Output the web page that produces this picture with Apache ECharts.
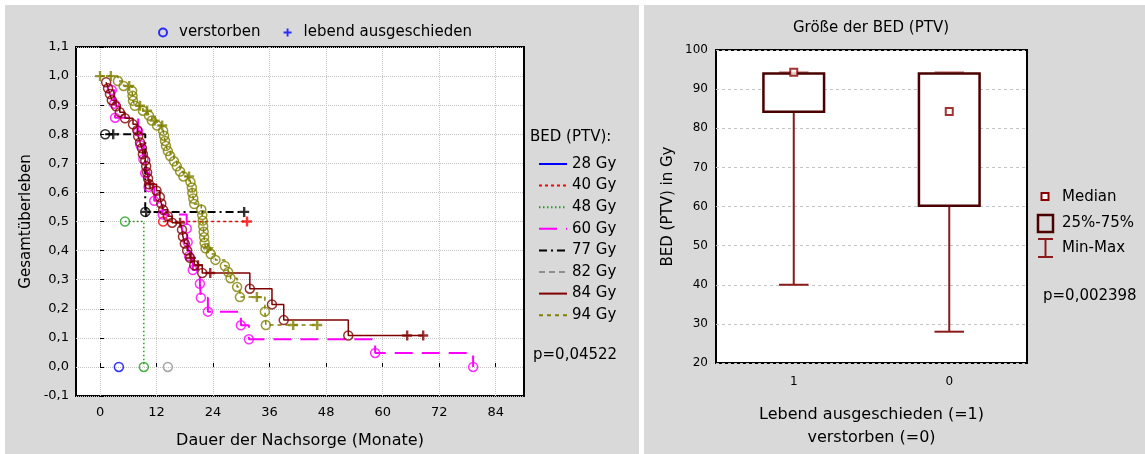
<!DOCTYPE html>
<html>
<head>
<meta charset="utf-8">
<script src="https://cdn.jsdelivr.net/npm/echarts@6/dist/echarts.min.js"></script>
<style>
html, body { margin: 0; padding: 0; background: #fff; }
.panel { position: absolute; background: #d9d9d9; }
#chart { position: absolute; left: 0; top: 0; width: 1145px; height: 454px; }
</style>
</head>
<body>
<div class="panel" style="left:5px;top:5px;width:634px;height:449px"></div>
<div class="panel" style="left:644px;top:5px;width:501px;height:449px"></div>
<div id="chart"></div>
<script>
// Überlebenskurven: [Monate, Überleben]
const gruppen = ['28 Gy', '40 Gy', '48 Gy', '60 Gy', '77 Gy', '82 Gy', '84 Gy', '94 Gy'];

const tot28 = [[4.0, 0]];
const cen28 = [];
const tot40 = [[13.4, 0.5]];
const cen40 = [[31.2, 0.5]];
const tot48 = [[5.3, 0.5], [9.3, 0]];
const cen48 = [];
const tot60 = [[2.5, 0.952], [3.0, 0.905], [3.2, 0.857], [8.1, 0.810], [8.6, 0.762], [9.2, 0.714],
    [9.6, 0.667], [10.3, 0.619], [11.5, 0.571], [13.3, 0.524], [18.4, 0.476], [18.6, 0.429],
    [18.9, 0.381], [19.7, 0.333], [21.2, 0.286], [21.4, 0.238], [22.9, 0.190], [29.9, 0.143],
    [31.6, 0.095], [58.4, 0.048], [79.2, 0]];
const cen60 = [];
const tot77 = [[1.1, 0.8], [9.6, 0.533]];
const cen77 = [[2.8, 0.8], [9.8, 0.533], [30.6, 0.533]];
const tot82 = [[14.4, 0]];
const cen82 = [];
const tot84 = [[1.3, 0.979], [1.7, 0.958], [2.1, 0.938], [2.5, 0.917], [3.4, 0.896], [4.2, 0.876],
    [5.3, 0.855], [7.0, 0.834], [7.9, 0.814], [8.1, 0.793], [8.5, 0.772], [8.9, 0.752],
    [9.1, 0.731], [9.6, 0.710], [9.8, 0.690], [10.0, 0.669], [10.2, 0.648], [10.4, 0.628],
    [12.0, 0.606], [12.7, 0.584], [13.0, 0.562], [13.4, 0.540], [14.4, 0.518], [15.3, 0.496],
    [17.4, 0.472], [17.6, 0.448], [18.0, 0.424], [18.5, 0.400], [19.1, 0.375], [20.0, 0.350],
    [21.7, 0.323], [31.8, 0.269], [36.5, 0.215], [39.0, 0.161], [52.7, 0.108]];
const cen84 = [[10.6, 0.628], [17.0, 0.496], [19.3, 0.375], [20.8, 0.350], [23.4, 0.323],
    [65.2, 0.108], [68.6, 0.108]];
const tot94 = [[3.8, 0.983], [5.0, 0.966], [6.8, 0.949], [6.9, 0.932], [7.0, 0.915], [7.4, 0.898],
    [9.1, 0.881], [10.4, 0.864], [11.0, 0.847], [12.1, 0.830], [13.4, 0.812], [13.6, 0.795],
    [13.8, 0.777], [14.0, 0.760], [14.4, 0.742], [14.9, 0.725], [15.7, 0.707], [16.3, 0.690],
    [17.0, 0.672], [17.7, 0.655], [19.2, 0.636], [19.5, 0.617], [19.6, 0.598], [19.8, 0.579],
    [20.0, 0.560], [21.5, 0.541], [21.7, 0.522], [21.8, 0.503], [21.9, 0.484], [22.0, 0.465],
    [22.1, 0.446], [22.2, 0.427], [22.4, 0.408], [23.5, 0.388], [24.5, 0.368], [26.5, 0.347],
    [27.2, 0.326], [27.7, 0.305], [29.1, 0.275], [29.7, 0.240], [35.0, 0.190], [35.2, 0.144]];
const cen94 = [[0, 1.0], [2.3, 1.0], [6.2, 0.966], [8.5, 0.898], [10.0, 0.881], [11.6, 0.847],
    [13.2, 0.830], [18.9, 0.655], [22.9, 0.408], [33.3, 0.240], [41.0, 0.144], [46.1, 0.144]];

const xTicks = [0, 12, 24, 36, 48, 60, 72, 84];

// Boxplot: Lebend ausgeschieden (=1), verstorben (=0)
const boxKat = ['1', '0'];
const boxMin = [40, 28];
const boxQ1 = [84.2, 60.2];
const boxMedian = [94.3, 84.3];
const boxQ3 = [94, 94];
const boxMax = [94.3, 94.3];

const FF = 'DejaVu Sans';
const tote = [tot28, tot40, tot48, tot60, tot77, tot82, tot84, tot94];
const zensiert = [cen28, cen40, cen48, cen60, cen77, cen82, cen84, cen94];
const farben = ['#0000ff', '#ff0000', '#20a020', '#ff00ff', '#000000', '#909090', '#800000', '#808000'];
const linien = ['solid', [3, 3], [1.5, 2.5], [18, 9], [8, 4, 2, 4], [6, 4], 'solid', [4, 4]];
const breiten = [1.5, 1.5, 1.5, 2, 2, 1.5, 1.5, 1.5];
const plus = 'path://M3.8,0H6.2V3.8H10V6.2H6.2V10H3.8V6.2H0V3.8H3.8Z';

let chartDom = document.getElementById('chart');
let myChart = echarts.init(chartDom);

let series = [];
gruppen.forEach(function(g, i) {
    let punkte = tote[i].concat(zensiert[i]).sort(function(a, b) { return a[0] - b[0]; });
    series.push({
        name: g,
        type: 'line',
        xAxisIndex: 0,
        yAxisIndex: 0,
        step: 'end',
        symbol: 'none',
        data: punkte,
        lineStyle: { color: farben[i], width: breiten[i], type: linien[i] },
        itemStyle: { color: farben[i] },
        z: 2
    });
    series.push({
        name: g + ' verstorben',
        type: 'scatter',
        xAxisIndex: 0,
        yAxisIndex: 0,
        symbol: 'circle',
        symbolSize: 9,
        data: tote[i],
        itemStyle: { color: 'rgba(0,0,0,0)', borderColor: farben[i], borderWidth: 1.5 },
        z: 3
    });
    series.push({
        name: g + ' lebend',
        type: 'scatter',
        xAxisIndex: 0,
        yAxisIndex: 0,
        symbol: plus,
        symbolSize: 10,
        data: zensiert[i],
        itemStyle: { color: farben[i] },
        z: 3
    });
});
// nur für die Legende oben
series.push({ name: 'verstorben', type: 'scatter', xAxisIndex: 0, yAxisIndex: 0, data: [], itemStyle: { color: '#0000ff' } });
series.push({ name: 'lebend ausgeschieden', type: 'scatter', xAxisIndex: 0, yAxisIndex: 0, data: [], itemStyle: { color: '#0000ff' } });

// Box mit Whiskern
series.push({
    name: 'box',
    type: 'custom',
    xAxisIndex: 1,
    yAxisIndex: 1,
    encode: { x: 0, y: [1, 2, 3, 4] },
    data: boxKat.map(function(k, i) { return [i, boxMin[i], boxQ1[i], boxQ3[i], boxMax[i]]; }),
    renderItem: function(params, api) {
        let c = api.value(0);
        let lo = api.coord([c, api.value(1)]);
        let q1 = api.coord([c, api.value(2)]);
        let q3 = api.coord([c, api.value(3)]);
        let hi = api.coord([c, api.value(4)]);
        let band = api.size([1, 0])[0];
        let bw = band * 0.39, cw = band * 0.19;
        let ws = { stroke: '#8b1a1a', lineWidth: 2 };
        return {
            type: 'group',
            children: [
                { type: 'line', shape: { x1: lo[0], y1: lo[1], x2: q1[0], y2: q1[1] }, style: ws },
                { type: 'line', shape: { x1: lo[0] - cw / 2, y1: lo[1], x2: lo[0] + cw / 2, y2: lo[1] }, style: ws },
                { type: 'line', shape: { x1: hi[0], y1: hi[1], x2: q3[0], y2: q3[1] }, style: ws },
                { type: 'line', shape: { x1: hi[0] - cw / 2, y1: hi[1], x2: hi[0] + cw / 2, y2: hi[1] }, style: { stroke: '#d08080', lineWidth: 2 } },
                { type: 'rect', shape: { x: q3[0] - bw / 2, y: q3[1], width: bw, height: q1[1] - q3[1] },
                  style: { fill: '#fff', stroke: '#4a0000', lineWidth: 2.5 } }
            ]
        };
    },
    z: 2
});
series.push({
    name: 'Median',
    type: 'scatter',
    xAxisIndex: 1,
    yAxisIndex: 1,
    symbol: 'rect',
    symbolSize: 7,
    data: boxKat.map(function(k, i) { return [i, boxMedian[i]]; }),
    itemStyle: { color: '#fff', borderColor: '#8b0000', borderWidth: 2 },
    z: 5
});

function txt(x, y, s, size, align) {
    return {
        type: 'text', x: x, y: y,
        style: { text: s, fontSize: size, fontFamily: FF, fill: '#000', textAlign: align || 'left', textVerticalAlign: 'middle' }
    };
}

let option = {
    animation: false,
    textStyle: { fontFamily: FF, color: '#000' },
    grid: [
        { left: 76, top: 47, right: 621, bottom: 58, show: true, backgroundColor: '#fff', borderColor: '#000', borderWidth: 2 },
        { left: 716, top: 50, right: 118, bottom: 90, show: true, backgroundColor: '#fff', borderColor: '#000', borderWidth: 2 }
    ],
    legend: [{
        left: 153,
        top: 20,
        itemWidth: 22,
        itemHeight: 8,
        itemGap: 23,
        textStyle: { fontSize: 15, color: '#000', fontFamily: FF },
        data: [
            { name: 'verstorben', icon: 'circle', itemStyle: { color: 'rgba(0,0,0,0)', borderColor: '#0000ff', borderWidth: 2 } },
            { name: 'lebend ausgeschieden', icon: plus, itemStyle: { color: '#0000ff' } }
        ]
    }, {
        orient: 'vertical',
        left: 533,
        top: 151,
        itemWidth: 28,
        itemHeight: 10,
        itemGap: 5.6,
        itemStyle: { opacity: 0 },
        textStyle: { fontSize: 15, color: '#000', fontFamily: FF, lineHeight: 16 },
        data: gruppen
    }],
    xAxis: [{
        type: 'value',
        gridIndex: 0,
        min: -5.1,
        max: 90,
        axisLine: { show: false },
        axisTick: { inside: true, length: 4, lineStyle: { color: '#000' }, customValues: xTicks },
        axisLabel: { customValues: xTicks, margin: 10, fontSize: 13, color: '#000' },
        splitLine: { show: true, lineStyle: { type: 'dotted', color: '#c4c4c4' } },
        name: 'Dauer der Nachsorge (Monate)',
        nameLocation: 'middle',
        nameGap: 37,
        nameTextStyle: { fontSize: 16, color: '#000' }
    }, {
        type: 'category',
        gridIndex: 1,
        data: boxKat,
        axisLine: { show: false },
        axisTick: { inside: true, length: 3, alignWithLabel: true, lineStyle: { color: '#000' } },
        axisLabel: { margin: 13, fontSize: 12, color: '#000' },
        name: 'Lebend ausgeschieden (=1)\nverstorben (=0)',
        nameLocation: 'middle',
        nameGap: 40,
        nameTextStyle: { fontSize: 16, color: '#000', lineHeight: 23 }
    }, {
        type: 'category',
        gridIndex: 1,
        position: 'top',
        data: boxKat,
        axisLine: { show: false },
        axisTick: { inside: true, length: 3, alignWithLabel: true, lineStyle: { color: '#000' } },
        axisLabel: { show: false }
    }],
    yAxis: [{
        type: 'value',
        gridIndex: 0,
        min: -0.1,
        max: 1.1,
        interval: 0.1,
        axisLine: { show: false },
        axisTick: { inside: true, length: 4, lineStyle: { color: '#000' } },
        axisLabel: {
            margin: 7, fontSize: 13, color: '#000',
            formatter: function(v) { return v.toFixed(1).replace('.', ','); }
        },
        splitLine: { show: true, lineStyle: { type: 'dotted', color: '#c4c4c4' } },
        name: 'Gesamtüberleben',
        nameLocation: 'middle',
        nameGap: 42,
        nameTextStyle: { fontSize: 15, color: '#000' }
    }, {
        type: 'value',
        gridIndex: 1,
        min: 20,
        max: 100,
        interval: 10,
        axisLine: { show: false },
        axisTick: { inside: true, length: 4, lineStyle: { color: '#000' } },
        axisLabel: { margin: 8, fontSize: 12, color: '#000' },
        splitLine: { show: true, lineStyle: { type: [3, 3], color: '#c4c4c4' } },
        name: 'BED (PTV) in Gy',
        nameLocation: 'middle',
        nameGap: 40,
        nameTextStyle: { fontSize: 15, color: '#000' }
    }, {
        type: 'value',
        gridIndex: 1,
        position: 'right',
        min: 20,
        max: 100,
        interval: 10,
        axisLine: { show: false },
        axisTick: { inside: true, length: 4, lineStyle: { color: '#000' } },
        axisLabel: { show: false },
        splitLine: { show: false }
    }],
    graphic: [
        txt(530, 137, 'BED (PTV):', 15),
        txt(533, 355, 'p=0,04522', 15),
        txt(871, 28, 'Größe der BED (PTV)', 15, 'center'),
        { type: 'rect', x: 1041.5, y: 193, shape: { width: 7, height: 7 }, style: { fill: '#fff', stroke: '#8b0000', lineWidth: 2 } },
        { type: 'rect', x: 1038, y: 215, shape: { width: 15, height: 17 }, style: { fill: 'rgba(0,0,0,0)', stroke: '#4a0000', lineWidth: 2.5 } },
        { type: 'line', shape: { x1: 1045.5, y1: 239, x2: 1045.5, y2: 257 }, style: { stroke: '#8b1a1a', lineWidth: 2 } },
        { type: 'line', shape: { x1: 1038, y1: 239, x2: 1053, y2: 239 }, style: { stroke: '#8b1a1a', lineWidth: 2 } },
        { type: 'line', shape: { x1: 1038, y1: 257, x2: 1053, y2: 257 }, style: { stroke: '#8b1a1a', lineWidth: 2 } },
        txt(1062, 197, 'Median', 15),
        txt(1062, 223, '25%-75%', 15),
        txt(1062, 248, 'Min-Max', 15),
        txt(1043, 296, 'p=0,002398', 15)
    ],
    series: series
};
myChart.setOption(option);
window.addEventListener('resize', function() {
    myChart.resize();
});
</script>
</body>
</html>
